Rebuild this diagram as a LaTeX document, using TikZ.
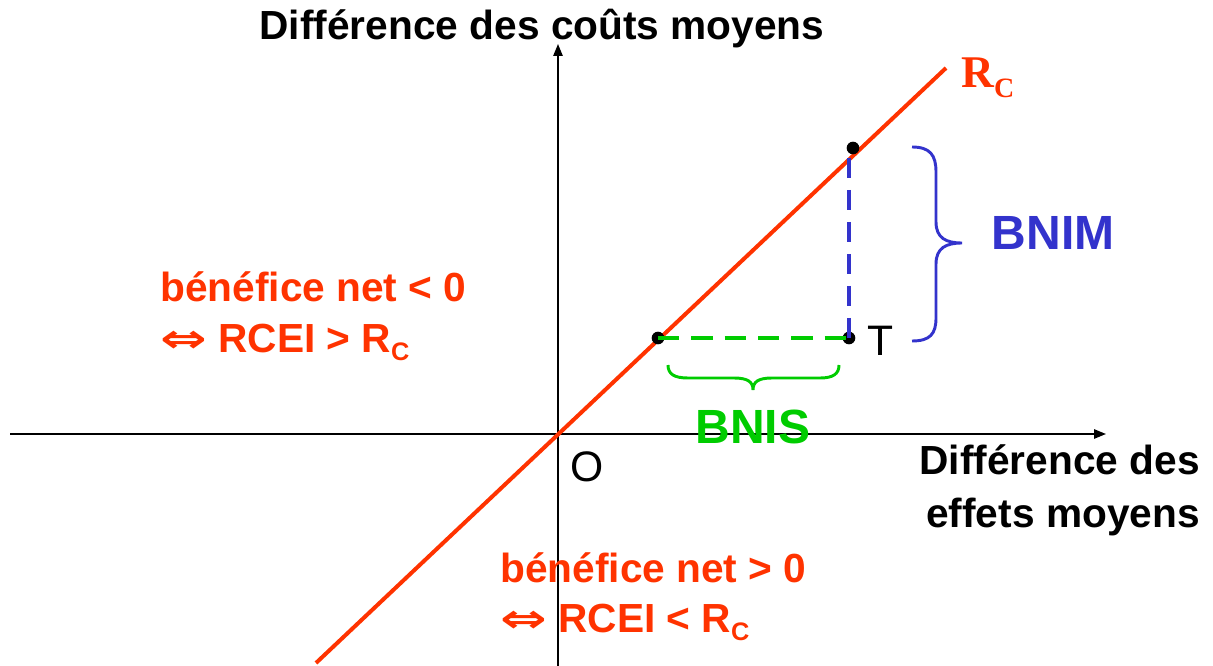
\documentclass[tikz,border=0pt]{standalone}
\usepackage{fontspec}
\setmainfont{Liberation Sans}
\newfontfamily\serifrc{Liberation Serif}
\newfontfamily\symfont{DejaVu Sans}
\usetikzlibrary{arrows.meta}
\definecolor{rc}{HTML}{FF3300}
\definecolor{bn}{HTML}{3333CC}
\definecolor{gn}{HTML}{00CC00}
\newcommand{\iffsym}{{\symfont\fontsize{27}{30}\selectfont\scalebox{1.55}[1.1]{⇔}}}
\newcommand{\subc}{\raisebox{-6pt}{\fontsize{19}{22}\selectfont C}}
\tikzset{
  axis/.style={line width=1.3pt,-{Triangle[length=9pt,width=7pt]}},
  redline/.style={rc,line width=3pt},
  dot/.style={circle,fill=black,inner sep=0pt,minimum size=9.5pt},
  bigtxt/.style={font=\fontsize{30.5}{34}\selectfont\bfseries,inner sep=0pt},
  hugetxt/.style={font=\fontsize{36}{40}\selectfont\bfseries,inner sep=0pt},
  redtxt/.style={bigtxt,text=rc,anchor=base west},
  plain/.style={font=\fontsize{32}{36}\selectfont,inner sep=0pt},
  brace/.style={line width=2.2pt},
}
\begin{document}
\begin{tikzpicture}[x=0.75pt,y=-0.75pt]
\useasboundingbox (0,0) rectangle (1213,666);
% axes
\coordinate (xs) at (10,434);
\coordinate (xe) at (1106,434);
\coordinate (ys) at (558,666);
\coordinate (ye) at (558,44);
\draw[axis] (xs) -- (xe);
\draw[axis] (ys) -- (ye);
% red line
\coordinate (ls) at (316,663);
\coordinate (le) at (946,68);
\draw[redline] (ls) -- (le);
% dashed lines
\node[dot] (P1) at (658,338) {};
\node[dot] (P2) at (853,148) {};
\node[dot] (T) at (849,338) {};
\draw[bn,line width=3pt,dash pattern=on 15pt off 9pt] (849,158) -- (T.center);
\draw[gn,line width=3pt,dash pattern=on 16pt off 9pt] (P1.center) -- (T.center);
% braces
\draw[bn,brace] (912,147) .. controls (930,147) and (936,155) .. (936,172) -- (936,222) .. controls (936,238) and (946,243) .. (962,243) .. controls (946,243) and (936,248) .. (936,264) -- (936,318) .. controls (936,334) and (930,341) .. (912,341);
\draw[gn,brace] (668,365) .. controls (668,374) and (674,378) .. (688,378) -- (734,378) .. controls (748,378) and (753,382) .. (753,390) .. controls (753,382) and (758,378) .. (772,378) -- (820,378) .. controls (833,378) and (839,374) .. (839,365);
% labels
\node[bigtxt,anchor=base] (ttl) at (542,40) {Différence des coûts moyens};
\node[bigtxt,anchor=base east] (xl1) at (1200,474) {Différence des};
\node[bigtxt,anchor=base east] (xl2) at (1200,527) {effets moyens};
\node[hugetxt,text=bn,anchor=base] (bnim) at (1053,250) {BNIM};
\node[hugetxt,text=gn,anchor=base] (bnis) at (753,443) {BNIS};
\node[plain,anchor=base west] (tl) at (867,355) {T};
\node[plain,anchor=base west] (ol) at (570,481) {O};
\node[text=rc,anchor=base west,inner sep=0pt] (rcl) at (961,88) {\fontsize{34}{38}\selectfont\serifrc\bfseries R\raisebox{-7pt}{\fontsize{21}{24}\selectfont C}};
\node[redtxt] (l1) at (160,302) {bénéfice net < 0};
\node[redtxt] (l2) at (160,353) {\iffsym\ RCEI > R\subc};
\node[redtxt] (l3) at (500,582) {bénéfice net > 0};
\node[redtxt] (l4) at (500,632) {\iffsym\ RCEI < R\subc};
\end{tikzpicture}
\end{document}
